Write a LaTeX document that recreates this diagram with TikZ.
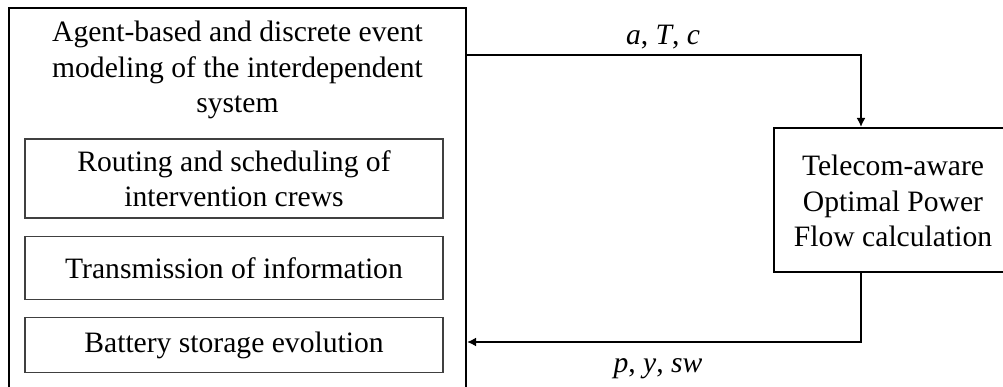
\documentclass[tikz,border=0pt]{standalone}
\usepackage{fontspec}
\setmainfont{Liberation Serif}
\usetikzlibrary{arrows.meta}
\tikzset{
  outer/.style={draw, line width=2pt},
  inner/.style={draw=black!75, line width=1.2pt},
  txt/.style={align=center, font=\fontsize{29.6}{35.5}\selectfont, inner sep=0pt},
  conn/.style={line width=2pt, -{Latex[length=9pt,width=9pt]}},
  lbl/.style={font=\fontsize{29.6}{35.5}\selectfont, inner sep=0pt}
}
\begin{document}
\begin{tikzpicture}[x=1pt,y=-1pt]
\useasboundingbox (0,0) rectangle (1003,387);
\clip (0,0) rectangle (1003,387);
% outer box
\node[outer, minimum width=457pt, minimum height=400pt, inner sep=0pt] (big) at (237.5,208) {};
\node[txt] (title) at (237.5,70) {Agent-based and discrete event\\modeling of the interdependent\\system};
% inner boxes
\node[inner, minimum width=418pt, minimum height=79pt, inner sep=0pt] (b1) at (234,178.5) {};
\node[txt] (t1) at (b1.center) {Routing and scheduling of\\intervention crews};
\node[inner, minimum width=418pt, minimum height=63pt, inner sep=0pt] (b2) at (234,268) {};
\node[txt] (t2) at (b2.center) {Transmission of information};
\node[inner, minimum width=418pt, minimum height=55pt, inner sep=0pt] (b3) at (234,345) {};
\node[txt] (t3) at (b3.center) {Battery storage evolution};
% telecom box
\node[outer, minimum width=238pt, minimum height=144pt, inner sep=0pt] (tel) at (893,200) {};
\node[txt] (tt) at (893,201) {Telecom-aware\\Optimal Power\\Flow calculation};
% connectors
\coordinate (c1) at (861,55);
\coordinate (c2) at (861,342);
\draw[conn] (big.east |- c1) -| (tel.north -| c1);
\draw[conn] (tel.south -| c2) |- (big.east |- c2);
% labels
\node[lbl] (l1) at (663,37) {\textit{a}, \textit{T}, \textit{c}};
\node[lbl] (l2) at (658,369) {\textit{p}, \textit{y}, \textit{sw}};
\end{tikzpicture}
\end{document}
